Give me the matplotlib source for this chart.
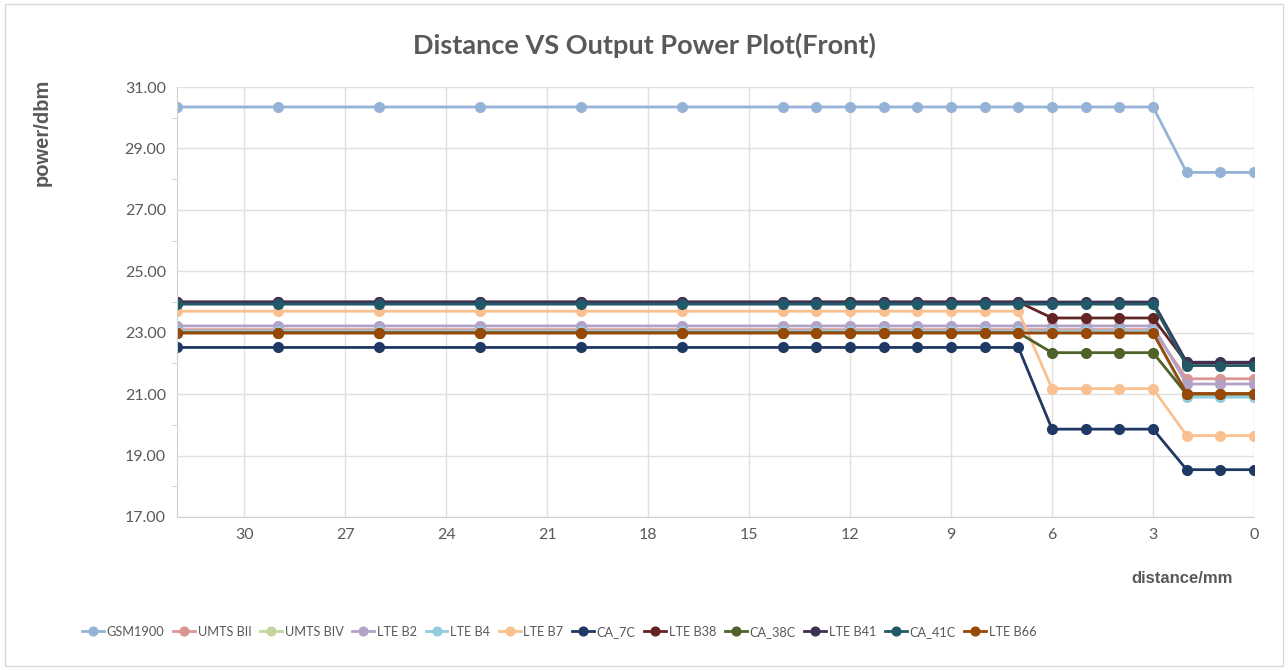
import matplotlib
matplotlib.use("Agg")
import matplotlib.pyplot as plt
from matplotlib.patches import Rectangle
from matplotlib.ticker import FormatStrFormatter, FixedLocator

plt.rcParams['font.family'] = ['Lato', 'DejaVu Sans']

# distance in mm (x axis runs from 32 down to 0)
distance = [32, 29, 26, 23, 20, 17, 14, 13, 12, 11, 10, 9, 8, 7, 6, 5, 4, 3, 2, 1, 0]

def steps(a, b, c):
    # plateaus: 32..7 mm, 6..3 mm, 2..0 mm
    return [a] * 14 + [b] * 4 + [c] * 3

gsm1900 = steps(30.35, 30.35, 28.22)
umts_b2 = steps(23.10, 23.10, 21.50)
umts_b4 = steps(23.00, 23.00, 21.00)
lte_b2 = steps(23.22, 23.22, 21.33)
lte_b4 = steps(23.05, 23.05, 20.90)
lte_b7 = steps(23.70, 21.18, 19.65)
ca_7c = steps(22.52, 19.86, 18.54)
lte_b38 = steps(24.00, 23.48, 22.02)
ca_38c = steps(23.00, 22.35, 21.00)
lte_b41 = steps(24.00, 24.00, 22.04)
ca_41c = steps(23.93, 23.93, 21.93)
lte_b66 = steps(22.99, 22.99, 21.02)

series = [
    ("GSM1900", gsm1900, "#95B3D7"),
    ("UMTS BII", umts_b2, "#D99694"),
    ("UMTS BIV", umts_b4, "#C3D69B"),
    ("LTE B2", lte_b2, "#B3A2C7"),
    ("LTE B4", lte_b4, "#93CDDD"),
    ("LTE B7", lte_b7, "#FAC090"),
    ("CA_7C", ca_7c, "#1F3864"),
    ("LTE B38", lte_b38, "#632523"),
    ("CA_38C", ca_38c, "#4F6228"),
    ("LTE B41", lte_b41, "#3F3151"),
    ("CA_41C", ca_41c, "#215968"),
    ("LTE B66", lte_b66, "#984807"),
]

y_ticks = [17, 19, 21, 23, 25, 27, 29, 31]
y_minor = [18, 20, 22, 24, 26, 28, 30]
x_ticks = [30, 27, 24, 21, 18, 15, 12, 9, 6, 3, 0]

fig = plt.figure(figsize=(12.88, 6.70), dpi=100)
ax = fig.add_axes([0.1374, 0.2284, 0.8362, 0.6417])

for name, vals, col in series:
    ax.plot(distance, vals, color=col, lw=2.0, marker='o', ms=7, label=name)

ax.set_xlim(32, 0)
ax.set_ylim(17, 31)
ax.set_xticks(x_ticks)
ax.set_yticks(y_ticks)
ax.yaxis.set_minor_locator(FixedLocator(y_minor))
ax.yaxis.set_major_formatter(FormatStrFormatter('%.2f'))
ax.grid(True, which='major', color='#E0E0E0', lw=1)
ax.set_axisbelow(True)
for s in ['top', 'right']:
    ax.spines[s].set_visible(False)
for s in ['left', 'bottom']:
    ax.spines[s].set_color('#D0D0D0')
ax.tick_params(axis='both', which='major', length=0, labelsize=11.5,
               labelcolor='#595959', pad=8)
ax.tick_params(axis='y', which='minor', length=4, color='#D0D0D0', direction='out')

fig.text(0.5, 0.933, "Distance VS Output Power Plot(Front)", ha='center', va='center',
         fontsize=19.5, fontweight='bold', color='#595959')
fig.text(0.0326, 0.803, "power/dbm", rotation=90, ha='center', va='center',
         fontsize=14.5, fontweight='bold', color='#595959', family='Liberation Sans')
fig.text(0.918, 0.137, "distance/mm", ha='center', va='center',
         fontsize=12, fontweight='bold', color='#595959', family='Liberation Sans')

fig.legend(loc='center left', bbox_to_anchor=(0.064, 0.057), ncol=12, frameon=False,
           fontsize=9.2, labelcolor='#595959', handlelength=1.7, handletextpad=0.2,
           columnspacing=0.7, markerscale=0.9, borderaxespad=0, borderpad=0)

fig.patches.append(Rectangle((0.004, 0.006), 0.992, 0.988, transform=fig.transFigure,
                             fill=False, edgecolor='#D9D9D9', lw=1))

fig.savefig("out.png", dpi=100)
